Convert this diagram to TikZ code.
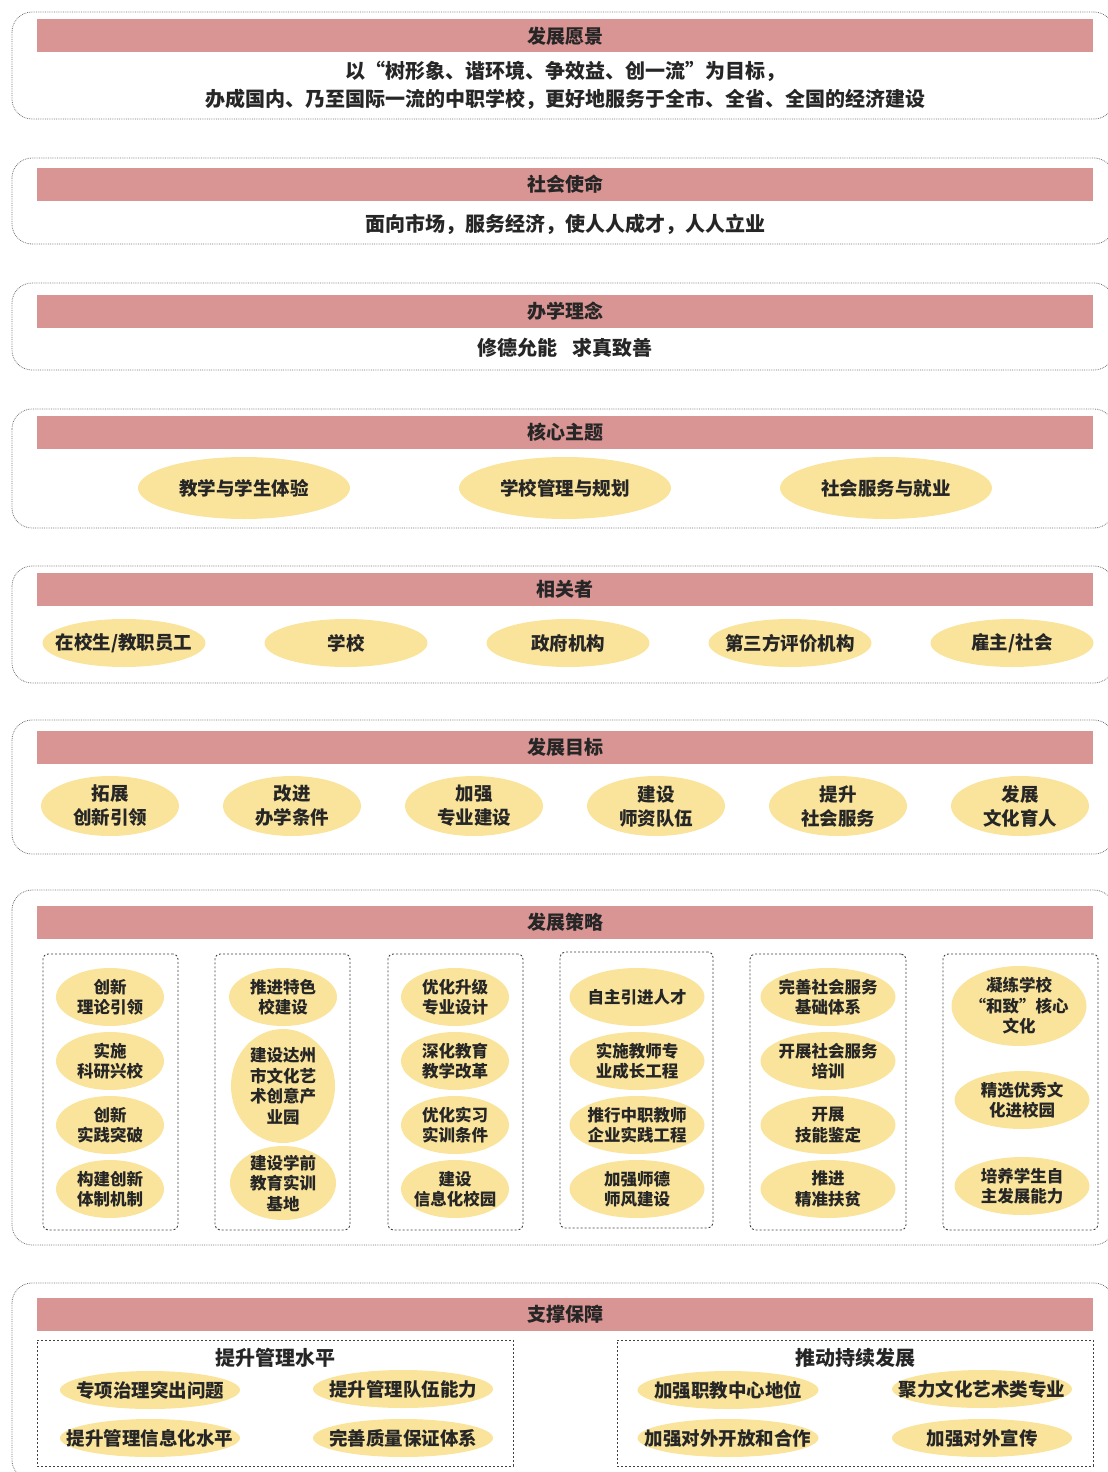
\documentclass[tikz,border=0pt]{standalone}
\usepackage{fontspec}
\setmainfont{Noto Sans CJK SC}
\usepackage{xcolor}
\usepackage{tikz}
\usetikzlibrary{positioning,shapes.geometric}
\definecolor{barpink}{HTML}{D99594}
\definecolor{ovalyel}{HTML}{FAE49C}
\definecolor{ink}{HTML}{262626}
\tikzset{
  panel/.style={draw=black!55, densely dotted, line width=.8pt, rounded corners=20pt},
  bar/.style={fill=barpink, minimum width=1056pt, minimum height=33pt, inner sep=0pt,
    text=ink, font=\fontsize{19}{22}\selectfont\bfseries},
  plain/.style={align=center, text=ink, font=\fontsize{20}{28}\selectfont\bfseries},
  oval/.style={ellipse, fill=ovalyel, inner sep=0pt},
  word/.style={align=center, inner sep=0pt, text=ink, font=\fontsize{18.5}{24}\selectfont\bfseries},
  small/.style={font=\fontsize{16.5}{20.5}\selectfont\bfseries},
  group/.style={draw=black!75, dash pattern=on 2pt off 2pt, line width=.9pt, rounded corners=5pt}
}
% ellipse with its text on top: name, x, y, width, height, text
\def\blob#1#2#3#4#5#6{%
  \node[oval, minimum width=#4pt, minimum height=#5pt] (#1) at ({#2},{#3}) {};
  \node[word] (#1-t) at (#1) {#6};}
\def\sblob#1#2#3#4#5#6{%
  \node[oval, minimum width=#4pt, minimum height=#5pt] (#1) at ({#2},{#3}) {};
  \node[word, small] (#1-t) at (#1) {#6};}
\begin{document}
\begin{tikzpicture}[x=1pt,y=-1pt]
\useasboundingbox (0,0) rectangle (1108,1472);
% vision
\draw[panel] (12,12) rectangle (1114,119);
\node[bar] (visionbar) at (565,36) {发展愿景};
\node[plain] (vision) at (565,85.5) {以“树形象、谐环境、争效益、创一流”为目标，\\办成国内、乃至国际一流的中职学校，更好地服务于全市、全省、全国的经济建设};
% mission
\draw[panel] (12,158) rectangle (1114,244);
\node[bar] (missionbar) at (565,184) {社会使命};
\node[plain] (mission) at (565,224) {面向市场，服务经济，使人人成才，人人立业};
% idea
\draw[panel] (12,283) rectangle (1114,370);
\node[bar] (ideabar) at (565,311) {办学理念};
\node[plain] (idea) at (565,348) {修德允能\hspace{.75em}求真致善};
% themes
\draw[panel] (12,409) rectangle (1114,528);
\node[bar] (themebar) at (565,432) {核心主题};
\foreach \t [count=\i] in {教学与学生体验,学校管理与规划,社会服务与就业}
  {\blob{theme\i}{244+321*(\i-1)}{488}{212}{62}{\t}}
% stakeholders
\draw[panel] (12,566) rectangle (1114,683);
\node[bar] (holderbar) at (565,589) {相关者};
\foreach \t [count=\i] in {在校生/教职员工,学校,政府机构,第三方评价机构,雇主/社会}
  {\blob{holder\i}{124+222*(\i-1)}{643}{163}{48}{\t}}
% goals
\draw[panel] (12,720) rectangle (1114,854);
\node[bar] (goalbar) at (565,747) {发展目标};
\foreach \t [count=\i] in {{拓展\\创新引领},{改进\\办学条件},{加强\\专业建设},{建设\\师资队伍},{提升\\社会服务},{发展\\文化育人}}
  {\blob{goal\i}{110+182*(\i-1)}{806}{138}{60}{\t}}
% strategies
\draw[panel] (12,890) rectangle (1114,1245);
\node[bar] (stratbar) at (565,922) {发展策略};
\node[group, minimum width=135pt, minimum height=276pt] (col1) at (110.5,1092) {};
\node[group, minimum width=135pt, minimum height=276pt] (col2) at (282.5,1092) {};
\node[group, minimum width=135pt, minimum height=276pt] (col3) at (455.5,1092) {};
\node[group, minimum width=153pt, minimum height=276pt] (col4) at (636.5,1090) {};
\node[group, minimum width=156pt, minimum height=276pt] (col5) at (828,1092) {};
\node[group, minimum width=155pt, minimum height=276pt] (col6) at (1020.5,1092) {};
\foreach \t [count=\j] in {{创新\\理论引领},{实施\\科研兴校},{创新\\实践突破},{构建创新\\体制机制}}
  {\sblob{teach\j}{110}{997+64*(\j-1)}{108}{58}{\t}}
\sblob{campus1}{283}{997}{108}{58}{推进特色\\校建设}
\sblob{campus2}{283}{1086}{104}{114}{建设达州\\市文化艺\\术创意产\\业园}
\sblob{campus3}{283}{1183}{106}{74}{建设学前\\教育实训\\基地}
\foreach \t [count=\j] in {{优化升级\\专业设计},{深化教育\\教学改革},{优化实习\\实训条件},{建设\\信息化校园}}
  {\sblob{major\j}{455}{997+64*(\j-1)}{108}{58}{\t}}
\foreach \t [count=\j] in {自主引进人才,{实施教师专\\业成长工程},{推行中职教师\\企业实践工程},{加强师德\\师风建设}}
  {\sblob{staff\j}{637}{997+64*(\j-1)}{135}{58}{\t}}
\foreach \t [count=\j] in {{完善社会服务\\基础体系},{开展社会服务\\培训},{开展\\技能鉴定},{推进\\精准扶贫}}
  {\sblob{serve\j}{828}{997+64*(\j-1)}{135}{58}{\t}}
\sblob{culture1}{1019}{1006}{135}{80}{凝练学校\\“和致”核心\\文化}
\sblob{culture2}{1022}{1100}{135}{58}{精选优秀文\\化进校园}
\sblob{culture3}{1022}{1186}{135}{58}{培养学生自\\主发展能力}
% support
\draw[panel] (12,1283) rectangle (1114,1480);
\node[bar] (supportbar) at (565,1314) {支撑保障};
\node[group, rounded corners=0pt, minimum width=476pt, minimum height=126pt] (manage) at (275,1403) {};
\node[group, rounded corners=0pt, minimum width=476pt, minimum height=126pt] (sustain) at (855,1403) {};
\node[plain] (managetitle) at (275,1358) {提升管理水平};
\node[plain] (sustaintitle) at (855,1358) {推动持续发展};
\blob{m1}{150}{1390}{180}{38}{专项治理突出问题}
\blob{m2}{403}{1389}{180}{38}{提升管理队伍能力}
\blob{m3}{150}{1438}{180}{38}{提升管理信息化水平}
\blob{m4}{403}{1438}{180}{38}{完善质量保证体系}
\blob{s1}{728}{1390}{181}{38}{加强职教中心地位}
\blob{s2}{982}{1389}{180}{38}{聚力文化艺术类专业}
\blob{s3}{728}{1438}{181}{38}{加强对外开放和合作}
\blob{s4}{982}{1438}{180}{38}{加强对外宣传}
\end{tikzpicture}
\end{document}
